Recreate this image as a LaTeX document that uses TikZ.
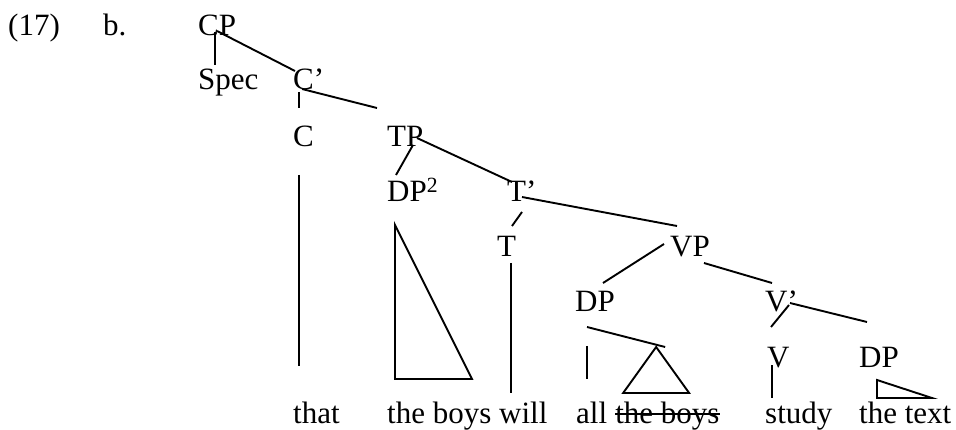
\documentclass[tikz,border=0pt]{standalone}
\usepackage{fontspec}
\setmainfont{Liberation Serif}
\begin{document}
\begin{tikzpicture}[x=1pt,y=-1pt,
        lab/.style={inner sep=0pt,anchor=base west,font=\fontsize{31}{31}\selectfont},
        branch/.style={line width=1.9pt}]
        \useasboundingbox (0,0) rectangle (956,430);
        \node[lab] (ex) at (8,36) {(17)};
        \node[lab] (bee) at (103,36) {b.};
        \node[lab] (CP) at (198,36) {CP};
        \node[lab] (Spec) at (198,90) {Spec};
        \node[lab] (Cbar) at (293,90) {C’};
        \node[lab] (C) at (293,147) {C};
        \node[lab] (TP) at (387,147) {TP};
        \node[lab] (DPsubj) at (387,202) {DP\textsuperscript{2}};
        \node[lab] (Tbar) at (507,202) {T’};
        \node[lab] (T) at (497,257) {T};
        \node[lab] (VP) at (670,257) {VP};
        \node[lab] (DPq) at (575,312) {DP};
        \node[lab] (Vbar) at (765,312) {V’};
        \node[lab] (V) at (767,367) {V};
        \node[lab] (DPobj) at (859,367) {DP};
        \node[lab] (that) at (293,423) {that};
        \node[lab] (boys) at (387,423) {the boys will};
        \node[lab] (all) at (576,423) {all};
        \node[lab] (copy) at ([xshift=7.75pt]all.base east) {the boys};
        \node[lab] (study) at (765,423) {study};
        \node[lab] (text) at (859,423) {the text};
        \draw[branch] ([shift={(17,-4)}]CP.base west) -- ([shift={(17,-25)}]Spec.base west);
        \draw[branch] ([shift={(19,-5)}]CP.base west) -- ([shift={(2,-19)}]Cbar.base west);
        \draw[branch] ([shift={(6,2)}]Cbar.base west) -- ([shift={(6,-39)}]C.base west);
        \draw[branch] ([shift={(9,-1)}]Cbar.base west) -- ([shift={(-10,-39)}]TP.base west);
        \draw[branch] ([shift={(6,28)}]C.base west) -- ([shift={(6,-57)}]that.base west);
        \draw[branch] ([shift={(26,-2)}]TP.base west) -- ([shift={(9,-27)}]DPsubj.base west);
        \draw[branch] ([shift={(30,-9)}]TP.base west) -- ([shift={(5,-20)}]Tbar.base west);
        \draw[branch] ([shift={(8,23)}]DPsubj.base west) -- ([shift={(8,-44)}]boys.base west)
            -- ([shift={(85,-44)}]boys.base west) -- cycle;
        \draw[branch] ([shift={(15,10)}]Tbar.base west) -- ([shift={(15,-31)}]T.base west);
        \draw[branch] ([shift={(15,-5)}]Tbar.base west) -- ([shift={(7,-31)}]VP.base west);
        \draw[branch] ([shift={(14,6)}]T.base west) -- ([shift={(124,-30)}]boys.base west);
        \draw[branch] ([shift={(-6,-13)}]VP.base west) -- ([shift={(28,-29)}]DPq.base west);
        \draw[branch] ([shift={(34,6)}]VP.base west) -- ([shift={(7,-29)}]Vbar.base west);
        \draw[branch] ([shift={(12,15)}]DPq.base west) -- ([shift={(50,-76)}]copy.base west);
        \draw[branch] ([shift={(12,34)}]DPq.base west) -- ([shift={(11,-44)}]all.base west);
        \draw[branch] ([shift={(41,-76)}]copy.base west) -- ([shift={(8,-30)}]copy.base west)
            -- ([shift={(74,-30)}]copy.base west) -- cycle;
        \draw[branch] ([shift={(24,-7)}]Vbar.base west) -- ([shift={(4,-40)}]V.base west);
        \draw[branch] ([shift={(25,-9)}]Vbar.base west) -- ([shift={(8,-45)}]DPobj.base west);
        \draw[branch] ([shift={(5,-2)}]V.base west) -- ([shift={(7,-25)}]study.base west);
        \draw[branch] ([shift={(18,-43)}]text.base west) -- ([shift={(18,-25)}]text.base west)
            -- ([shift={(73,-25)}]text.base west) -- cycle;
        \draw[branch] ([shift={(0,-9)}]copy.base west) -- ([shift={(0,-9)}]copy.base east);
\end{tikzpicture}
\end{document}
